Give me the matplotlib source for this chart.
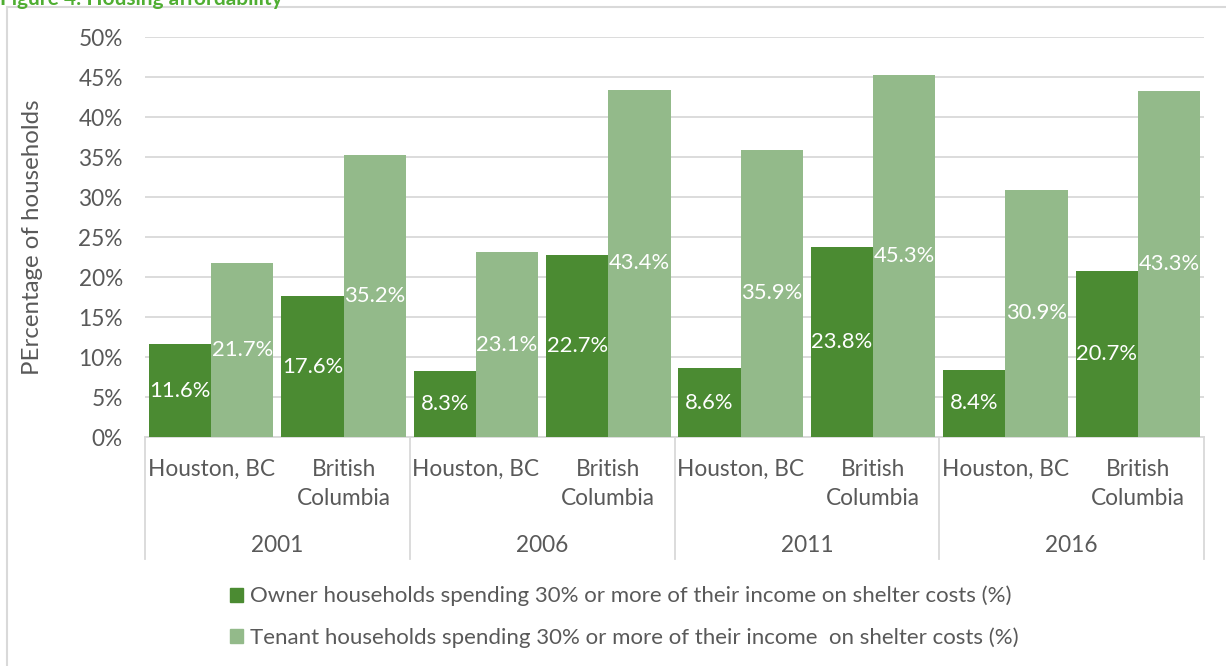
import numpy as np
import matplotlib.pyplot as plt
from matplotlib.patches import Patch

plt.rcParams['font.family'] = ['Lato', 'DejaVu Sans']

years = ['2001', '2006', '2011', '2016']
places = ['Houston, BC', 'British\nColumbia']
owner = [11.6, 17.6, 8.3, 22.7, 8.6, 23.8, 8.4, 20.7]
tenant = [21.7, 35.2, 23.1, 43.4, 35.9, 45.3, 30.9, 43.3]
owner_lbl = 'Owner households spending 30% or more of their income on shelter costs (%)'
tenant_lbl = 'Tenant households spending 30% or more of their income  on shelter costs (%)'

dark = '#4b8b32'
light = '#93ba8a'
grey = '#595959'
grid = '#d9d9d9'

fig = plt.figure(figsize=(12.26, 6.66), dpi=100)
ax = fig.add_axes([145/1226, 229/666, 1059/1226, 400/666])

x = np.arange(len(owner))
w = 0.47
b1 = ax.bar(x - w/2, owner, w, color=dark, zorder=3)
b2 = ax.bar(x + w/2, tenant, w, color=light, zorder=3)
for bars, vals in ((b1, owner), (b2, tenant)):
    for r, v in zip(bars, vals):
        ax.text(r.get_x() + r.get_width()/2, v/2, f'{v:.1f}%', ha='center', va='center',
                color='white', fontsize=15.8, zorder=4)

ax.set_xlim(-0.5, 7.5)
ax.set_ylim(0, 50)
ax.set_yticks(range(0, 51, 5))
ax.set_yticklabels([f'{t}%' for t in range(0, 51, 5)])
ax.tick_params(axis='y', length=0, pad=16, labelsize=16.3, labelcolor=grey)
ax.set_xticks([])
ax.grid(axis='y', color=grid, lw=1.3, zorder=0)
for s in ['top', 'right', 'left']:
    ax.spines[s].set_visible(False)
ax.spines['bottom'].set_color(grid)
ax.spines['bottom'].set_linewidth(1.3)
fig.text(33/1226, 1 - 237/666, 'PErcentage of households', rotation=90, ha='center',
         va='center', fontsize=17.3, color=grey)

# two-level category axis
for i in range(len(owner)):
    ax.text(i, -2.7, places[i % 2], ha='center', va='top', fontsize=16.3, color=grey,
            linespacing=1.5)
for j, yr in enumerate(years):
    ax.text(2*j + 0.5, -13.5, yr, ha='center', va='center', fontsize=16.3, color=grey)
for xb in [-0.5, 1.5, 3.5, 5.5, 7.5]:
    ax.plot([xb, xb], [0, -15.2], color=grid, lw=1.3, clip_on=False)

handles = [Patch(color=dark), Patch(color=light)]
fig.legend(handles, [owner_lbl, tenant_lbl], loc='center left',
           bbox_to_anchor=(210/1226, 1 - 617/666), frameon=False, fontsize=16,
           labelcolor=grey, handlelength=0.6, handleheight=0.6, handletextpad=0.3,
           labelspacing=0.95)

# outer chart frame (left and top edges visible)
fig.add_artist(plt.Line2D([7/1226, 7/1226], [0, 1 - 7/666], color=grid, lw=1.5))
fig.add_artist(plt.Line2D([7/1226, 1], [1 - 7/666, 1 - 7/666], color=grid, lw=1.5))

fig.text(0, 1 - 5/666, 'Figure 4: Housing affordability', color='#4fae32',
         fontsize=15, fontweight='bold', va='baseline')

fig.savefig('out.png', dpi=100, facecolor='white')
